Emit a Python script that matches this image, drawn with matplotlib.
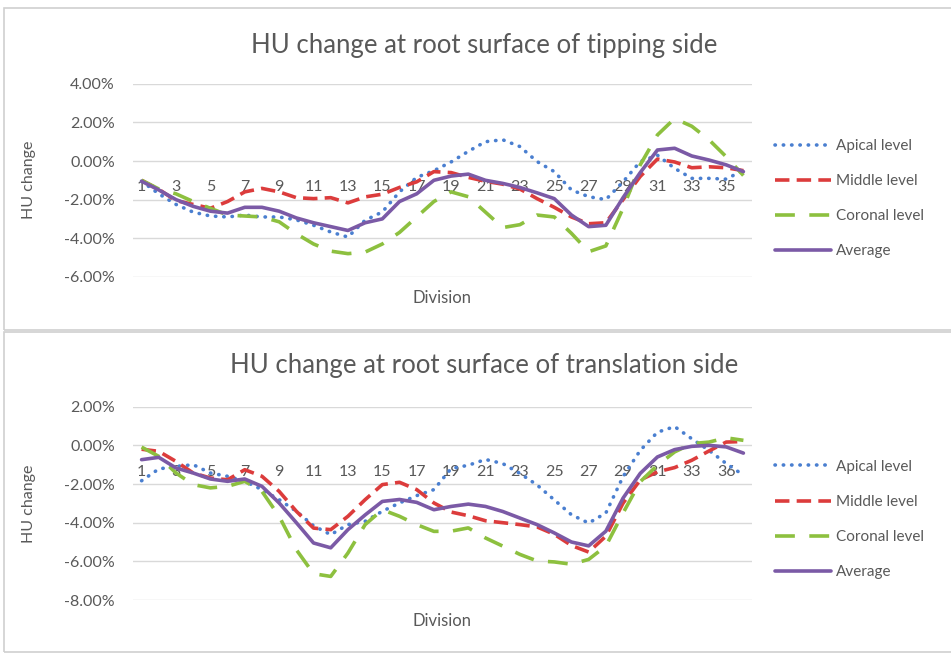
import matplotlib
matplotlib.use('Agg')
from matplotlib import pyplot as plt
from matplotlib.patches import Rectangle
from matplotlib.ticker import FuncFormatter

plt.rcParams['font.family'] = ['Lato', 'DejaVu Sans']

divisions = list(range(1, 37))

# tipping side (values in %)
tip_apical = [-1.05, -1.7, -2.25, -2.65, -2.85, -2.9, -2.8, -2.9, -2.9, -3.05,
              -3.33, -3.68, -3.94, -3.07, -2.64, -1.6, -0.85, -0.5, -0.05, 0.5,
              1.0, 1.1, 0.75, -0.03, -0.55, -1.5, -1.85, -2.0, -1.08, -0.03,
              0.3, -0.38, -0.9, -0.9, -0.94, -0.47]
tip_middle = [-1.0, -1.47, -2.05, -2.25, -2.45, -2.1, -1.6, -1.42, -1.6, -1.9,
              -1.95, -1.9, -2.17, -1.86, -1.72, -1.37, -1.08, -0.55, -0.6, -0.85,
              -1.05, -1.2, -1.45, -1.95, -2.4, -2.9, -3.25, -3.2, -2.0, -0.8,
              0.1, -0.05, -0.35, -0.3, -0.35, -0.5]
tip_coronal = [-1.0, -1.45, -1.7, -2.1, -2.45, -2.8, -2.85, -2.9, -3.15, -3.77,
               -4.3, -4.67, -4.8, -4.72, -4.3, -3.7, -2.9, -2.1, -1.6, -1.85,
               -2.65, -3.45, -3.3, -2.8, -2.9, -3.75, -4.7, -4.4, -2.45, -0.2,
               1.35, 2.2, 1.8, 1.1, 0.22, -0.75]
tip_average = [-1.05, -1.5, -2.0, -2.35, -2.6, -2.7, -2.4, -2.4, -2.6, -2.95,
               -3.2, -3.4, -3.6, -3.2, -3.0, -2.1, -1.7, -1.0, -0.78, -0.68,
               -1.0, -1.16, -1.37, -1.65, -1.95, -2.8, -3.4, -3.33, -1.9, -0.6,
               0.57, 0.66, 0.26, 0.05, -0.2, -0.55]

# translation side (values in %)
tr_apical = [-1.83, -1.22, -1.09, -1.0, -1.43, -1.6, -1.86, -2.29, -2.81, -3.41,
             -4.16, -4.62, -4.1, -3.93, -3.41, -2.98, -2.6, -2.29, -1.2, -1.03,
             -0.73, -0.94, -1.45, -2.05, -2.82, -3.59, -4.02, -3.5, -1.62, -0.26,
             0.68, 0.97, 0.34, -0.26, -0.94, -1.54]
tr_middle = [-0.2, -0.31, -0.83, -1.43, -1.69, -1.78, -1.26, -1.6, -2.38, -3.41,
             -4.28, -4.36, -3.67, -2.81, -2.03, -1.91, -2.29, -2.98, -3.45, -3.64,
             -3.9, -4.0, -4.1, -4.22, -4.6, -5.18, -5.52, -4.7, -2.99, -1.79,
             -1.37, -1.15, -0.77, -0.29, 0.17, 0.2]
tr_coronal = [-0.09, -0.57, -1.43, -2.03, -2.2, -2.12, -1.86, -2.38, -3.67, -5.4,
              -6.64, -6.78, -5.57, -4.1, -3.33, -3.67, -4.1, -4.45, -4.44, -4.27,
              -4.79, -5.21, -5.64, -5.98, -6.03, -6.15, -5.9, -5.21, -3.5, -1.88,
              -1.03, -0.34, 0.09, 0.17, 0.39, 0.26]
tr_average = [-0.74, -0.62, -1.17, -1.43, -1.74, -1.86, -1.74, -2.12, -2.98, -4.0,
              -5.05, -5.3, -4.36, -3.6, -2.9, -2.8, -2.95, -3.33, -3.16, -3.04,
              -3.16, -3.42, -3.76, -4.1, -4.53, -5.0, -5.2, -4.44, -2.73, -1.45,
              -0.6, -0.22, -0.05, 0.0, -0.08, -0.4]

tip_ticklabels = [str(d) if d % 2 == 1 else '' for d in divisions]
tr_ticklabels = [str(d) if d % 2 == 1 else '' for d in divisions]
tr_ticklabels[34] = '36'

series_names = ['Apical level', 'Middle level', 'Coronal level', 'Average']
colors = ['#4A7FD0', '#DC3C3C', '#8DC03F', '#7B5AA6']
styles = [(0, (0.1, 2.2)), (0, (4, 2)), (0, (5.5, 4)), '-']
caps = ['round', 'butt', 'butt', 'round']

text_grey = '#595959'
grid_grey = '#D9D9D9'

W, H = 951, 654
fig = plt.figure(figsize=(W / 100, H / 100), dpi=100)


def box(y_top, y_bot):
    fig.patches.append(Rectangle((4 / W, 1 - y_bot / H), 1.0, (y_bot - y_top) / H,
                                 transform=fig.transFigure, fill=False,
                                 edgecolor='#D0D0D0', lw=1.2))


def panel(rect, series, ylim, yticks, ticklabels, title, title_y, leg_y):
    ax = fig.add_axes(rect)
    for vals, name, c, ls, cap in zip(series, series_names, colors, styles, caps):
        ax.plot(divisions, vals, color=c, lw=2.6, linestyle=ls,
                dash_capstyle=cap, solid_capstyle='round', label=name)
    ax.set_xlim(0.5, 36.5)
    ax.set_ylim(*ylim)
    ax.set_yticks(yticks)
    ax.yaxis.set_major_formatter(FuncFormatter(lambda v, p: '%.2f%%' % v))
    ax.set_xticks(divisions)
    ax.set_xticklabels(ticklabels)
    ax.grid(axis='y', color=grid_grey, lw=1)
    ax.set_axisbelow(True)
    for s in ['top', 'right', 'left']:
        ax.spines[s].set_visible(False)
    ax.spines['bottom'].set_position(('data', 0))
    ax.spines['bottom'].set_visible(False)
    ax.tick_params(axis='both', length=0, colors=text_grey)
    ax.tick_params(axis='x', pad=14, labelsize=11.5)
    ax.tick_params(axis='y', pad=13, labelsize=11.5)
    ax.set_ylabel('HU change', color=text_grey, fontsize=11.5, labelpad=20)
    ax.text(0.5, -0.11, 'Division', transform=ax.transAxes, ha='center',
            va='center', color=text_grey, fontsize=12)
    fig.text(484 / W, 1 - title_y / H, title, ha='center', va='center',
             color=text_grey, fontsize=18.5)
    ax.legend(loc='center left', bbox_to_anchor=(1.037, leg_y), frameon=False,
              fontsize=11, handlelength=3.7, handletextpad=0.3,
              labelspacing=1.38, borderpad=0, borderaxespad=0,
              labelcolor=text_grey)
    return ax


box(8, 330)
box(332, 652)

panel([133 / W, 1 - 276.8 / H, 619 / W, 193 / H],
      [tip_apical, tip_middle, tip_coronal, tip_average],
      (-6, 4), [-6, -4, -2, 0, 2, 4], tip_ticklabels,
      'HU change at root surface of tipping side', 45, 0.405)

panel([133 / W, 1 - 600 / H, 619 / W, 193.3 / H],
      [tr_apical, tr_middle, tr_coronal, tr_average],
      (-8, 2), [-8, -6, -4, -2, 0, 2], tr_ticklabels,
      'HU change at root surface of translation side', 365, 0.417)

fig.savefig('out.png', dpi=100)
